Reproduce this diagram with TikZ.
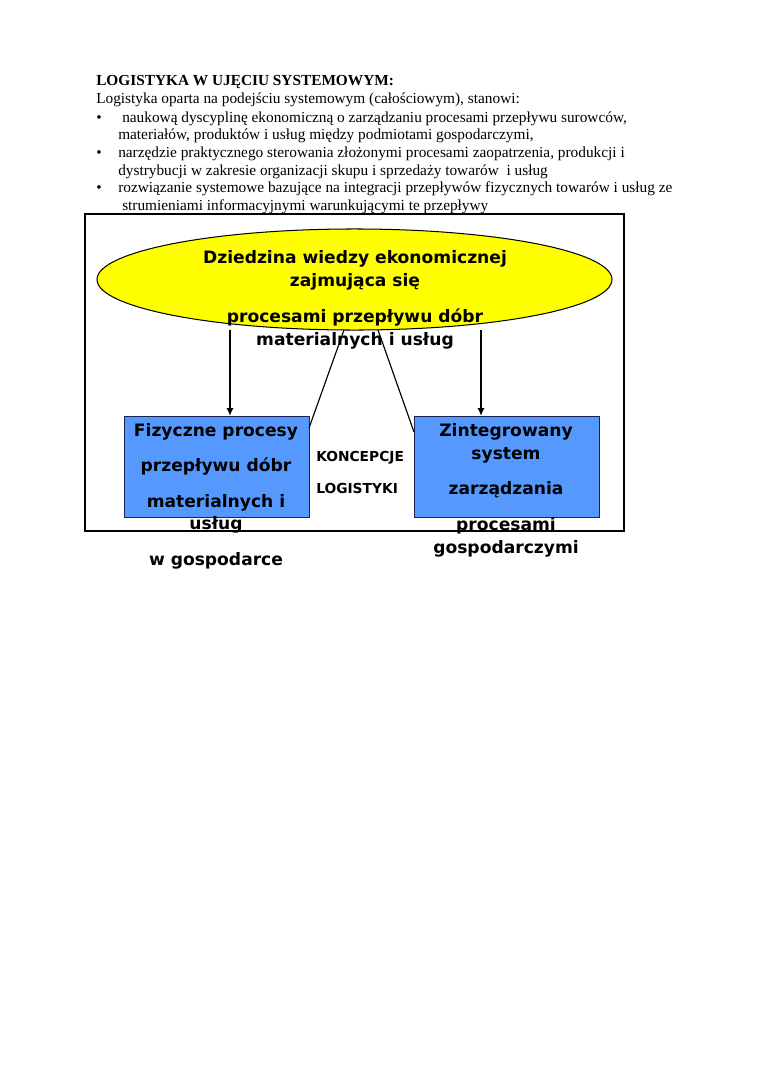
\documentclass[tikz,border=0pt]{standalone}
\usepackage{fontspec}
\setmainfont{Liberation Serif}
\newfontfamily\dvfont{DejaVu Sans}
\usetikzlibrary{shapes.geometric,arrows.meta}
\definecolor{boxblue}{RGB}{85,153,255}
\definecolor{boxedge}{RGB}{25,35,85}
\definecolor{ellyellow}{RGB}{255,255,0}
\begin{document}
\begin{tikzpicture}[x=0.7829pt,y=-0.7829pt,
  body/.style={anchor=base west,inner sep=0,font=\fontsize{12}{14}\selectfont},
  head/.style={anchor=base west,inner sep=0,font=\fontsize{12}{14}\selectfont\bfseries},
  dg/.style={anchor=base,inner sep=0,font=\dvfont\bfseries\fontsize{13.4}{16}\selectfont},
  dgs/.style={anchor=base west,inner sep=0,font=\dvfont\bfseries\fontsize{10.8}{13}\selectfont},
  bluebox/.style={draw=boxedge,line width=0.7pt,fill=boxblue,minimum width=144.8pt,minimum height=79.5pt,inner sep=0},
  arr/.style={line width=0.9pt,-{Latex[length=6pt,width=5.5pt]}},
  conn/.style={line width=0.9pt}]
\useasboundingbox (0,0) rectangle (760,1075);
% header text
\node[head] (t0) at (96,85) {LOGISTYKA W UJĘCIU SYSTEMOWYM:};
\node[body] (t1) at (96,104) {Logistyka oparta na podejściu systemowym (całościowym), stanowi:};
\node[body] (b1) at (96,122) {•};
\node[body] (t2) at (122,122) {naukową dyscyplinę ekonomiczną o zarządzaniu procesami przepływu surowców,};
\node[body] (t3) at (118,139) {materiałów, produktów i usług między podmiotami gospodarczymi,};
\node[body] (b2) at (96,157) {•};
\node[body] (t4) at (118,157) {narzędzie praktycznego sterowania złożonymi procesami zaopatrzenia, produkcji i};
\node[body] (t5) at (118,175) {dystrybucji w zakresie organizacji skupu i sprzedaży towarów\ \ i usług};
\node[body] (b3) at (96,192) {•};
\node[body] (t6) at (118,192) {rozwiązanie systemowe bazujące na integracji przepływów fizycznych towarów i usług ze};
\node[body] (t7) at (122,210) {strumieniami informacyjnymi warunkującymi te przepływy};
% frame
\draw[line width=1.6pt] (85,214) rectangle (624,531);
% ellipse
\node[ellipse,draw,line width=0.8pt,fill=ellyellow,minimum width=403.2pt,minimum height=79.1pt,inner sep=0] (ell) at (354.5,279.5) {};
% boxes
\node[bluebox] (lbox) at (216.5,467) {};
\node[bluebox] (rbox) at (506.5,467) {};
% connectors
\coordinate (la) at (230,330);
\coordinate (ra) at (481,330);
\draw[arr] (la) -- (la |- lbox.north);
\draw[arr] (ra) -- (ra |- rbox.north);
\coordinate (lt) at (344,330);
\coordinate (lb) at (309,428);
\coordinate (rt) at (378,330);
\coordinate (rb) at (414,432);
\draw[conn] (lt) -- (lb);
\draw[conn] (rt) -- (rb);
% ellipse text
\node[dg] (e1) at (355,263) {Dziedzina wiedzy ekonomicznej};
\node[dg] (e2) at (355,286) {zajmująca się};
\node[dg] (e3) at (355,322) {procesami przepływu dóbr};
\node[dg] (e4) at (355,345) {materialnych i usług};
% left box text
\node[dg] (l1) at (216,436) {Fizyczne procesy};
\node[dg] (l2) at (216,471) {przepływu dóbr};
\node[dg] (l3) at (216,507) {materialnych i};
\node[dg] (l4) at (216,529) {usług};
\node[dg] (l5) at (216,565) {w gospodarce};
% right box text
\node[dg] (r1) at (506,436) {Zintegrowany};
\node[dg] (r2) at (506,459) {system};
\node[dg] (r3) at (506,494) {zarządzania};
\node[dg] (r4) at (506,530) {procesami};
\node[dg] (r5) at (506,553) {gospodarczymi};
% middle text
\node[dgs] (k1) at (316,461) {KONCEPCJE};
\node[dgs] (k2) at (316,493) {LOGISTYKI};
\end{tikzpicture}
\end{document}
